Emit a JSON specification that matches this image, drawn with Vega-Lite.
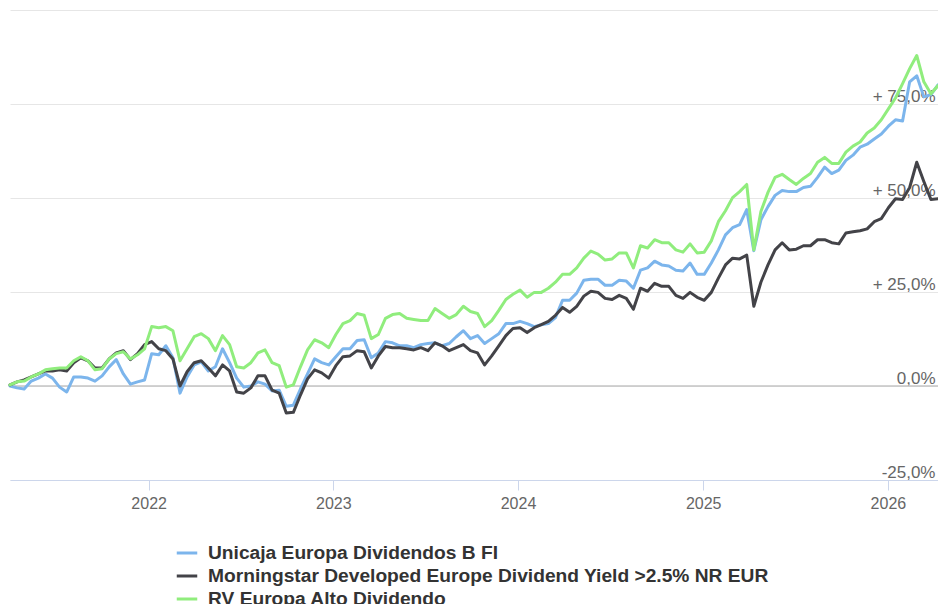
{
  "$schema": "https://vega.github.io/schema/vega-lite/v6.json",
  "width": 928,
  "height": 470,
  "padding": {"left": 10, "top": 10, "right": 0, "bottom": 124},
  "autosize": {"type": "none"},
  "background": "#ffffff",
  "config": {"view": {"stroke": null}, "font": "Liberation Sans"},
  "layer": [
    {
      "data": {"values": [{"z": 0}]},
      "mark": {"type": "rule", "color": "#c4c4c4", "strokeWidth": 1.5},
      "encoding": {
        "y": {
          "field": "z", "type": "quantitative", "title": null,
          "scale": {"domain": [-25, 100], "nice": false, "zero": false},
          "axis": {
            "orient": "right", "values": [-25, 0, 25, 50, 75, 100],
            "grid": true, "gridColor": "#e6e6e6", "domain": false, "ticks": false, "tickSize": 0,
            "labelAlign": "right", "labelBaseline": "alphabetic", "labelPadding": -3, "labelOffset": -3,
            "labelFontSize": 17, "labelColor": "#666666", "labelFont": "Liberation Sans",
            "labelFlush": false, "labelOverlap": false,
            "labelExpr": "datum.value == 100 ? '' : datum.value > 0 ? '+ ' + replace(format(datum.value, '.1f'), '.', ',') + '%' : datum.value < 0 ? '-' + replace(format(-datum.value, '.1f'), '.', ',') + '%' : '0,0%'"
          }
        }
      }
    },
    {
      "data": {"values": [
        {"d":"2021-04-02","u":0,"m":0.3,"r":0.3},
        {"d":"2021-04-16","u":-0.5,"m":1.1,"r":1.1},
        {"d":"2021-04-30","u":-0.8,"m":1.6,"r":1.3},
        {"d":"2021-05-14","u":1.3,"m":2.4,"r":2.4},
        {"d":"2021-05-28","u":2.1,"m":3.2,"r":3.2},
        {"d":"2021-06-11","u":3.2,"m":4.0,"r":4.3},
        {"d":"2021-06-25","u":2.1,"m":4.0,"r":4.6},
        {"d":"2021-07-09","u":-0.3,"m":4.3,"r":4.8},
        {"d":"2021-07-23","u":-1.6,"m":4.0,"r":4.8},
        {"d":"2021-08-06","u":2.4,"m":6.2,"r":6.7},
        {"d":"2021-08-20","u":2.4,"m":7.5,"r":7.8},
        {"d":"2021-09-03","u":2.1,"m":6.7,"r":6.7},
        {"d":"2021-09-17","u":1.3,"m":4.8,"r":4.3},
        {"d":"2021-10-01","u":2.7,"m":4.8,"r":4.6},
        {"d":"2021-10-15","u":5.1,"m":7.2,"r":7.2},
        {"d":"2021-10-29","u":7.0,"m":8.8,"r":8.6},
        {"d":"2021-11-12","u":3.2,"m":9.4,"r":9.1},
        {"d":"2021-11-26","u":0.5,"m":7.0,"r":7.2},
        {"d":"2021-12-10","u":1.1,"m":8.6,"r":8.3},
        {"d":"2021-12-24","u":1.6,"m":11.0,"r":9.9},
        {"d":"2022-01-07","u":8.6,"m":11.8,"r":15.8},
        {"d":"2022-01-21","u":8.3,"m":9.9,"r":15.5},
        {"d":"2022-02-04","u":10.7,"m":9.4,"r":15.8},
        {"d":"2022-02-18","u":7.5,"m":7.2,"r":14.7},
        {"d":"2022-03-04","u":-1.9,"m":0,"r":6.7},
        {"d":"2022-03-18","u":2.4,"m":3.8,"r":9.9},
        {"d":"2022-04-01","u":5.6,"m":6.2,"r":13.1},
        {"d":"2022-04-15","u":6.4,"m":6.7,"r":13.9},
        {"d":"2022-04-29","u":4.0,"m":4.8,"r":12.6},
        {"d":"2022-05-13","u":5.1,"m":2.7,"r":9.4},
        {"d":"2022-05-27","u":9.9,"m":5.6,"r":13.4},
        {"d":"2022-06-10","u":6.2,"m":4.0,"r":11.0},
        {"d":"2022-06-24","u":2.1,"m":-1.6,"r":5.1},
        {"d":"2022-07-08","u":-0.3,"m":-1.9,"r":4.8},
        {"d":"2022-07-22","u":0,"m":-0.5,"r":6.2},
        {"d":"2022-08-05","u":1.1,"m":2.7,"r":8.8},
        {"d":"2022-08-19","u":0.5,"m":2.7,"r":9.6},
        {"d":"2022-09-02","u":-1.3,"m":-1.1,"r":6.2},
        {"d":"2022-09-16","u":-1.1,"m":-1.9,"r":5.4},
        {"d":"2022-09-30","u":-5.4,"m":-7.2,"r":-0.3},
        {"d":"2022-10-14","u":-5.1,"m":-7.0,"r":0.3},
        {"d":"2022-10-28","u":-0.8,"m":-2.4,"r":5.1},
        {"d":"2022-11-11","u":3.2,"m":1.9,"r":9.6},
        {"d":"2022-11-25","u":7.2,"m":4.3,"r":12.3},
        {"d":"2022-12-09","u":6.2,"m":3.5,"r":11.5},
        {"d":"2022-12-23","u":5.6,"m":2.1,"r":10.2},
        {"d":"2023-01-06","u":7.8,"m":5.4,"r":13.7},
        {"d":"2023-01-20","u":9.9,"m":7.8,"r":16.6},
        {"d":"2023-02-03","u":9.9,"m":8.0,"r":17.4},
        {"d":"2023-02-17","u":12.1,"m":9.4,"r":19.3},
        {"d":"2023-03-03","u":12.3,"m":9.1,"r":18.8},
        {"d":"2023-03-17","u":7.5,"m":4.8,"r":12.6},
        {"d":"2023-03-31","u":8.8,"m":8.0,"r":13.7},
        {"d":"2023-04-14","u":11.8,"m":10.5,"r":18.0},
        {"d":"2023-04-28","u":11.5,"m":10.2,"r":19.0},
        {"d":"2023-05-12","u":10.7,"m":10.2,"r":19.3},
        {"d":"2023-05-26","u":10.7,"m":9.9,"r":18.0},
        {"d":"2023-06-09","u":10.2,"m":9.6,"r":17.7},
        {"d":"2023-06-23","u":11.0,"m":10.2,"r":17.4},
        {"d":"2023-07-07","u":11.3,"m":9.4,"r":17.4},
        {"d":"2023-07-21","u":11.5,"m":11.5,"r":20.6},
        {"d":"2023-08-04","u":10.7,"m":10.7,"r":19.3},
        {"d":"2023-08-18","u":11.3,"m":9.4,"r":18.0},
        {"d":"2023-09-01","u":13.1,"m":10.2,"r":19.0},
        {"d":"2023-09-15","u":14.7,"m":11.0,"r":21.2},
        {"d":"2023-09-29","u":12.6,"m":9.4,"r":19.8},
        {"d":"2023-10-13","u":13.4,"m":8.8,"r":19.3},
        {"d":"2023-10-27","u":11.3,"m":5.6,"r":15.8},
        {"d":"2023-11-10","u":12.6,"m":8.0,"r":17.4},
        {"d":"2023-11-24","u":13.9,"m":10.7,"r":20.1},
        {"d":"2023-12-08","u":16.6,"m":13.4,"r":23.0},
        {"d":"2023-12-22","u":16.6,"m":15.3,"r":24.4},
        {"d":"2024-01-05","u":17.2,"m":15.5,"r":25.5},
        {"d":"2024-01-19","u":16.6,"m":14.2,"r":23.6},
        {"d":"2024-02-02","u":15.8,"m":15.5,"r":24.9},
        {"d":"2024-02-16","u":16.3,"m":16.3,"r":24.9},
        {"d":"2024-03-01","u":16.6,"m":17.2,"r":26.0},
        {"d":"2024-03-15","u":18.2,"m":18.8,"r":27.6},
        {"d":"2024-03-29","u":22.8,"m":20.9,"r":29.7},
        {"d":"2024-04-12","u":22.8,"m":19.6,"r":29.7},
        {"d":"2024-04-26","u":24.7,"m":21.2,"r":31.4},
        {"d":"2024-05-10","u":28.1,"m":23.9,"r":34.0},
        {"d":"2024-05-24","u":28.4,"m":25.2,"r":35.9},
        {"d":"2024-06-07","u":28.4,"m":24.9,"r":35.1},
        {"d":"2024-06-21","u":26.8,"m":23.3,"r":33.5},
        {"d":"2024-07-05","u":26.8,"m":23.0,"r":33.8},
        {"d":"2024-07-19","u":28.1,"m":24.1,"r":35.4},
        {"d":"2024-08-02","u":27.9,"m":23.3,"r":35.4},
        {"d":"2024-08-16","u":26.0,"m":20.4,"r":31.4},
        {"d":"2024-08-30","u":30.8,"m":26.0,"r":37.3},
        {"d":"2024-09-13","u":31.4,"m":25.2,"r":36.7},
        {"d":"2024-09-27","u":33.2,"m":27.3,"r":38.9},
        {"d":"2024-10-11","u":32.2,"m":26.5,"r":38.1},
        {"d":"2024-10-25","u":31.9,"m":26.5,"r":38.1},
        {"d":"2024-11-08","u":30.8,"m":24.1,"r":36.2},
        {"d":"2024-11-22","u":30.6,"m":23.3,"r":35.6},
        {"d":"2024-12-06","u":32.7,"m":24.9,"r":37.8},
        {"d":"2024-12-20","u":29.7,"m":23.6,"r":35.4},
        {"d":"2025-01-03","u":29.7,"m":22.8,"r":35.6},
        {"d":"2025-01-17","u":32.7,"m":24.9,"r":38.6},
        {"d":"2025-01-31","u":36.2,"m":28.7,"r":43.7},
        {"d":"2025-02-14","u":40.2,"m":32.2,"r":46.6},
        {"d":"2025-02-28","u":42.1,"m":34.0,"r":50.1},
        {"d":"2025-03-14","u":42.9,"m":33.8,"r":51.7},
        {"d":"2025-03-28","u":46.9,"m":34.8,"r":53.6},
        {"d":"2025-04-11","u":36.0,"m":21.2,"r":36.2},
        {"d":"2025-04-25","u":44.2,"m":27.6,"r":46.4},
        {"d":"2025-05-09","u":47.7,"m":32.2,"r":51.5},
        {"d":"2025-05-23","u":50.7,"m":36.2,"r":55.5},
        {"d":"2025-06-06","u":52.0,"m":38.1,"r":56.3},
        {"d":"2025-06-20","u":51.7,"m":36.2,"r":54.9},
        {"d":"2025-07-04","u":51.7,"m":36.4,"r":53.6},
        {"d":"2025-07-18","u":52.8,"m":37.3,"r":55.2},
        {"d":"2025-08-01","u":53.1,"m":37.3,"r":56.5},
        {"d":"2025-08-15","u":55.5,"m":38.9,"r":59.5},
        {"d":"2025-08-29","u":58.2,"m":38.9,"r":60.8},
        {"d":"2025-09-12","u":56.5,"m":38.1,"r":59.2},
        {"d":"2025-09-26","u":57.4,"m":37.8,"r":59.2},
        {"d":"2025-10-10","u":60.0,"m":40.7,"r":62.2},
        {"d":"2025-10-24","u":61.4,"m":41.0,"r":63.8},
        {"d":"2025-11-07","u":63.5,"m":41.3,"r":64.9},
        {"d":"2025-11-21","u":64.3,"m":41.8,"r":67.3},
        {"d":"2025-12-05","u":65.7,"m":43.7,"r":68.6},
        {"d":"2025-12-19","u":67.0,"m":44.5,"r":70.8},
        {"d":"2026-01-02","u":69.1,"m":47.4,"r":73.7},
        {"d":"2026-01-16","u":70.8,"m":49.8,"r":76.6},
        {"d":"2026-01-30","u":70.5,"m":49.6,"r":80.4},
        {"d":"2026-02-13","u":80.9,"m":52.8,"r":84.4},
        {"d":"2026-02-27","u":82.5,"m":59.5,"r":87.9},
        {"d":"2026-03-13","u":76.9,"m":54.4,"r":80.9},
        {"d":"2026-03-27","u":77.5,"m":49.6,"r":77.7},
        {"d":"2026-04-10","u":80.1,"m":49.8,"r":79.9}
      ]},
      "transform": [{"fold": ["u", "m", "r"], "as": ["s", "v"]}],
      "mark": {"type": "line", "strokeWidth": 3, "strokeJoin": "round", "strokeCap": "round"},
      "encoding": {
        "x": {
          "field": "d", "type": "temporal", "title": null,
          "scale": {"nice": false},
          "axis": {
            "format": "%Y", "tickCount": {"interval": "year", "step": 1},
            "grid": false, "domainColor": "#ccd6eb", "tickColor": "#ccd6eb",
            "tickSize": 10, "labelFontSize": 16, "labelColor": "#666666",
            "labelPadding": 5, "labelFont": "Liberation Sans", "labelFlush": false, "labelOverlap": false
          }
        },
        "y": {
          "field": "v", "type": "quantitative", "title": null,
          "scale": {"domain": [-25, 100], "nice": false, "zero": false},
          "axis": {
            "orient": "right", "values": [-25, 0, 25, 50, 75, 100],
            "grid": true, "gridColor": "#e6e6e6", "domain": false, "ticks": false, "tickSize": 0,
            "labelAlign": "right", "labelBaseline": "alphabetic", "labelPadding": -3, "labelOffset": -3,
            "labelFontSize": 17, "labelColor": "#666666", "labelFont": "Liberation Sans",
            "labelFlush": false, "labelOverlap": false,
            "labelExpr": "datum.value == 100 ? '' : datum.value > 0 ? '+ ' + replace(format(datum.value, '.1f'), '.', ',') + '%' : datum.value < 0 ? '-' + replace(format(-datum.value, '.1f'), '.', ',') + '%' : '0,0%'"
          }
        },
        "color": {
          "field": "s", "type": "nominal",
          "scale": {"domain": ["u", "m", "r"], "range": ["#7cb5ec", "#434348", "#90ed7d"]},
          "legend": {
            "title": null, "orient": "none", "legendX": 165, "legendY": 531, "direction": "vertical",
            "symbolType": "stroke", "symbolSize": 420, "symbolStrokeWidth": 3,
            "labelFontSize": 19.2, "labelFontWeight": "bold", "labelColor": "#333333", "labelFont": "Liberation Sans",
            "labelLimit": 800, "labelOffset": 9, "rowPadding": -2.5, "padding": 0,
            "labelExpr": "datum.value == 'u' ? 'Unicaja Europa Dividendos B FI' : datum.value == 'm' ? 'Morningstar Developed Europe Dividend Yield >2.5% NR EUR' : 'RV Europa Alto Dividendo'"
          }
        }
      }
    }
  ]
}
